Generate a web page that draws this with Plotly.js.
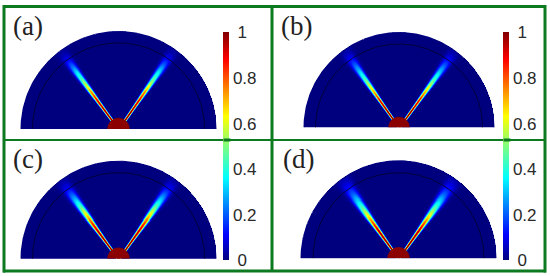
<!DOCTYPE html>
<html><head><meta charset="utf-8">
<script src="https://cdn.plot.ly/plotly-3.0.1.min.js"></script>
<style>html,body{margin:0;padding:0;background:#fff}#c{width:550px;height:276px}</style>
</head><body><div id="c"></div>
<script>
// ---- values ----
const panelLabels = ['(a)', '(b)', '(c)', '(d)'];
const colorbarTickVals = [0, 0.2, 0.4, 0.6, 0.8, 1];
const colorbarTickText = ['\u00a00', '0.2', '0.4', '0.6', '0.8', '\u00a01'];
// radial stations (fraction of the outer radius) along each beam
const beamStations = [0.10, 0.20, 0.35, 0.45, 0.55, 0.65, 0.72, 0.80, 0.88, 0.95, 1.00];
const peakA = [1.00, 1.00, 0.92, 0.78, 0.60, 0.43, 0.34, 0.21, 0.10, 0.04, 0.02];
const peakB = [1.00, 1.00, 0.90, 0.73, 0.57, 0.41, 0.32, 0.21, 0.11, 0.05, 0.02];
const peakC = [1.00, 1.00, 0.95, 0.84, 0.66, 0.47, 0.35, 0.22, 0.11, 0.05, 0.02];
const peakD = [1.00, 1.00, 0.95, 0.80, 0.62, 0.44, 0.33, 0.21, 0.12, 0.06, 0.03];
const widthA = [0.013, 0.014, 0.017, 0.021, 0.025, 0.030, 0.035, 0.041, 0.050, 0.060, 0.066];
const widthB = [0.013, 0.014, 0.017, 0.021, 0.026, 0.031, 0.036, 0.043, 0.052, 0.063, 0.072];
const widthC = [0.013, 0.014, 0.019, 0.024, 0.030, 0.036, 0.041, 0.048, 0.057, 0.068, 0.078];
const widthD = [0.013, 0.015, 0.020, 0.025, 0.032, 0.039, 0.045, 0.053, 0.063, 0.075, 0.088];
// beam direction, degrees from vertical
const leftAngle = [36.3, 35.0, 36.2, 35.4];
const rightAngle = [34.8, 35.8, 35.3, 35.4];
// radii as fractions of the outer radius
const innerRadius = [0.883, 0.879, 0.883, 0.877];
const coreRadius = [0.113, 0.111, 0.113, 0.113];

// ---- layout constants (pixels) ----
const W = 550, H = 276;
const centerX = [118.5, 399, 118.5, 398.5];
const baseY = [129, 127.5, 258.7, 258.3];
const radiusPx = [97.5, 95, 97.5, 97.5];
const peaks = [peakA, peakB, peakC, peakD];
const widths = [widthA, widthB, widthC, widthD];
const jet = [[0,'#00007f'],[0.11,'#0000ff'],[0.36,'#00ffff'],[0.5,'#7fff7f'],[0.63,'#ffff00'],[0.88,'#ff0000'],[1,'#7f0000']];
const fieldColor = '#00007f', coreColor = '#8b0000', frameColor = '#0d7a20';

function lookup(xs, ys, v) {
  if (v <= xs[0]) return ys[0];
  for (let i = 1; i < xs.length; i++) if (v <= xs[i]) {
    const t = (v - xs[i-1]) / (xs[i] - xs[i-1]);
    return ys[i-1] + t * (ys[i] - ys[i-1]);
  }
  return ys[ys.length-1];
}
function beam(x, y, deg, side, pk, wd) {
  const a = deg * Math.PI / 180, ux = side * Math.sin(a), uy = Math.cos(a);
  const along = x * ux + y * uy;
  if (along <= 0) return 0;
  const d = x * uy - y * ux, s = lookup(beamStations, wd, along);
  return lookup(beamStations, pk, along) * Math.exp(-Math.pow(Math.abs(d) / s, 2.5));
}
function arc(r, a0, a1) {
  const xs = [], ys = [], n = 180;
  for (let i = 0; i <= n; i++) {
    const a = (a0 + (a1 - a0) * i / n) * Math.PI / 180;
    xs.push(r * Math.cos(a)); ys.push(r * Math.sin(a));
  }
  return [xs, ys];
}

const traces = [], layout = {
  width: W, height: H, margin: {l:0,r:0,t:0,b:0}, paper_bgcolor:'#fff', plot_bgcolor:'rgba(0,0,0,0)',
  showlegend:false, shapes:[], annotations:[],
  coloraxis: {cmin:0, cmax:1, colorscale:jet, showscale:true, colorbar:bar(223)},
  coloraxis2:{cmin:0, cmax:1, colorscale:jet, showscale:true, colorbar:bar(502.5)}
};
function bar(px) {
  return {x:px/W, xanchor:'left', y:1-32.5/H, yanchor:'top', len:228/H, lenmode:'fraction',
    thickness:6, thicknessmode:'pixels', xpad:0, ypad:0, outlinewidth:0, borderwidth:0,
    tickmode:'array', tickvals:colorbarTickVals, ticktext:colorbarTickText, ticks:'', ticklen:0,
    tickfont:{family:'Liberation Sans, Arial, sans-serif', size:17, color:'#2a2a2a'}};
}
panelLabels.forEach((lab, p) => {
  const id = p === 0 ? '' : String(p + 1), R = radiusPx[p], pad = 2;
  const sx = 'x' + id, sy = 'y' + id;
  const ax = {visible:false, fixedrange:true, showgrid:false, zeroline:false};
  const lim = (R + pad) / R;
  layout['xaxis' + id] = Object.assign({}, ax, {range:[-lim, lim], anchor:sy,
    domain:[(centerX[p]-R-pad)/W, (centerX[p]+R+pad)/W]});
  layout['yaxis' + id] = Object.assign({}, ax, {range:[0, lim], anchor:sx,
    domain:[1-baseY[p]/H, 1-(baseY[p]-R-pad)/H]});
  // field sampled at half-pixel spacing
  const step = 0.5 / R, xs = [], ys = [], z = [];
  for (let x = -1; x <= 1 + 1e-9; x += step) xs.push(x);
  for (let y = step / 2; y <= 1; y += step) ys.push(y);
  ys.forEach(y => z.push(xs.map(x => {
    if (x * x + y * y > 1) return null;
    return Math.max(beam(x, y, leftAngle[p], -1, peaks[p], widths[p]), beam(x, y, rightAngle[p], 1, peaks[p], widths[p]));
  })));
  traces.push({type:'heatmap', x:xs, y:ys, z:z, coloraxis: (p % 2) ? 'coloraxis2' : 'coloraxis',
    xaxis:sx, yaxis:sy, hoverinfo:'skip', zsmooth:false});
  const [ox, oy] = arc(1, 0, 180);
  traces.push({type:'scatter', mode:'lines', x:ox, y:oy, xaxis:sx, yaxis:sy, hoverinfo:'skip',
    line:{color:fieldColor, width:1}});
  const [ix, iy] = arc(innerRadius[p], 0, 180);
  traces.push({type:'scatter', mode:'lines', x:ix, y:iy, xaxis:sx, yaxis:sy, hoverinfo:'skip',
    line:{color:'#00003c', width:1}});
  const [cx, cy] = arc(coreRadius[p], 0, 180);
  traces.push({type:'scatter', mode:'lines', x:cx, y:cy, xaxis:sx, yaxis:sy, hoverinfo:'skip',
    fill:'toself', fillcolor:coreColor, line:{color:coreColor, width:0.5}});
  layout.annotations.push({text:lab, xref:'paper', yref:'paper', showarrow:false, xanchor:'left', yanchor:'middle',
    x:[11,279,11,281][p]/W, y:1-[26,26,159,159][p]/H,
    font:{family:'Liberation Serif, Times New Roman, serif', size:27, color:'#222'}});
});
// frame
const fr = (x0,y0,x1,y1,w) => ({type:'line', xref:'paper', yref:'paper', x0:x0/W, x1:x1/W, y0:1-y0/H, y1:1-y1/H,
  layer:'above', line:{color:frameColor, width:w}});
layout.shapes.push(fr(3,6.5,546,6.5,3), fr(3,271,546,271,3), fr(4,5,4,272.5,3), fr(545,5,545,272.5,3),
  fr(272,6,272,271,3), fr(4,140,545,140,2));
[223, 502.5].forEach(px => layout.annotations.push({text:'\u00a0', xref:'paper', yref:'paper', showarrow:false,
  xanchor:'left', yanchor:'middle', x:px/W, y:1-140/H, width:6, height:2, borderpad:0, bgcolor:frameColor,
  font:{size:1}}));
Plotly.newPlot('c', traces, layout, {staticPlot:true, displayModeBar:false});
</script></body></html>
